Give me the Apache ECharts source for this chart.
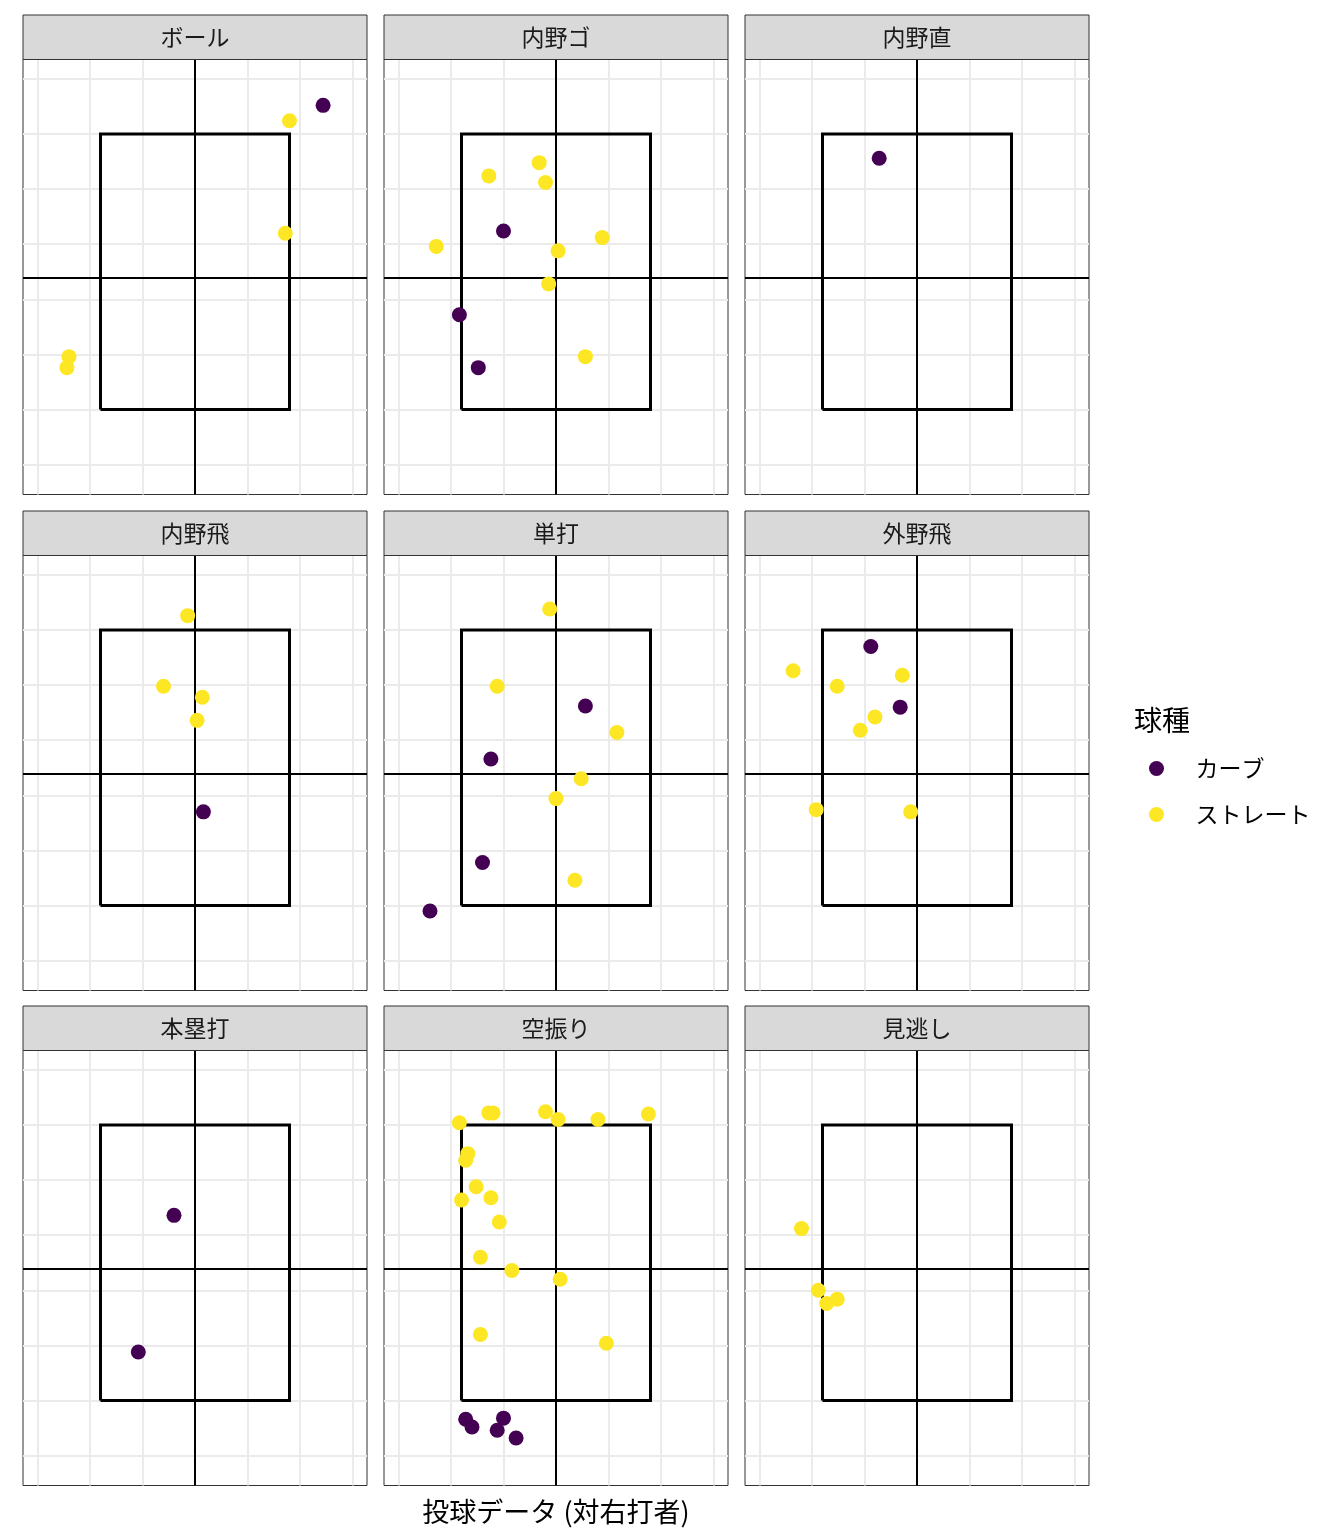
<!DOCTYPE html>
<html>
<head>
<meta charset="utf-8">
<script src="https://cdn.jsdelivr.net/npm/echarts@6/dist/echarts.min.js"></script>
<style>
  html, body { margin: 0; padding: 0; background: #ffffff; }
  #chart { width: 1344px; height: 1536px; }
</style>
</head>
<body>
<div id="chart"></div>
<script>
// ---- data ----
const facets = ['ボール', '内野ゴ', '内野直', '内野飛', '単打', '外野飛', '本塁打', '空振り', '見逃し'];
const pitchTypes = ['カーブ', 'ストレート'];
const xTitle = '投球データ (対右打者)';
const legendTitle = '球種';

// [plate x, plate z] per facet and pitch type
const ball_curve = [[1.22, 3.76]];
const ball_straight = [[0.90, 3.62], [0.86, 2.60], [-1.20, 1.48], [-1.22, 1.38]];
const gro_curve = [[-0.50, 2.62], [-0.92, 1.86], [-0.74, 1.38]];
const gro_straight = [[-0.16, 3.24], [-0.64, 3.12], [-0.10, 3.06], [-1.14, 2.48], [0.44, 2.56], [0.02, 2.44], [-0.07, 2.14], [0.28, 1.48]];
const liner_curve = [[-0.36, 3.28]];
const liner_straight = [];
const infly_curve = [[0.08, 1.85]];
const infly_straight = [[-0.07, 3.63], [-0.30, 2.99], [0.07, 2.89], [0.02, 2.68]];
const single_curve = [[0.28, 2.81], [-0.62, 2.33], [-0.70, 1.39], [-1.20, 0.95]];
const single_straight = [[-0.06, 3.69], [-0.56, 2.99], [0.58, 2.57], [0.24, 2.15], [0.00, 1.97], [0.18, 1.23]];
const outfly_curve = [[-0.44, 3.35], [-0.16, 2.80]];
const outfly_straight = [[-1.18, 3.13], [-0.14, 3.09], [-0.76, 2.99], [-0.40, 2.71], [-0.54, 2.59], [-0.96, 1.87], [-0.06, 1.85]];
const hr_curve = [[-0.20, 2.68], [-0.54, 1.44]];
const hr_straight = [];
const swing_curve = [[-0.86, 0.83], [-0.80, 0.76], [-0.50, 0.84], [-0.56, 0.73], [-0.38, 0.66]];
const swing_straight = [[-0.92, 3.52], [-0.64, 3.61], [-0.60, 3.61], [-0.10, 3.62], [0.02, 3.55], [0.40, 3.55], [0.88, 3.60],
  [-0.84, 3.24], [-0.86, 3.18], [-0.76, 2.94], [-0.90, 2.82], [-0.62, 2.84], [-0.54, 2.62], [-0.72, 2.30], [-0.42, 2.18],
  [0.04, 2.10], [-0.72, 1.60], [0.48, 1.52]];
const look_curve = [];
const look_straight = [[-1.10, 2.56], [-0.94, 2.00], [-0.86, 1.88], [-0.76, 1.92]];

const curveByFacet = [ball_curve, gro_curve, liner_curve, infly_curve, single_curve, outfly_curve, hr_curve, swing_curve, look_curve];
const straightByFacet = [ball_straight, gro_straight, liner_straight, infly_straight, single_straight, outfly_straight, hr_straight, swing_straight, look_straight];

// strike zone and reference lines
const zoneX = [-0.9, 0.9];
const zoneZ = [1.0, 3.5];
const centerX = 0;
const centerZ = 2.2;
// panel grid breaks
const xBreaks = [-1.5, -1.0, -0.5, 0.5, 1.0, 1.5];
const zBreaks = [0.5, 1.0, 1.5, 2.0, 2.5, 3.0, 3.5, 4.0];
const xRange = [-1.638, 1.638];
const zRange = [0.229, 4.176];

// ---- styling / layout ----
const colors = ['#440154', '#FDE725'];
const FONT = '"Noto Sans CJK JP", "Noto Sans", sans-serif';
const colLeft = [23, 384, 745];
const rowTop = [59.5, 555.5, 1050.5];
const PW = 344, PH = 435, STRIP = 44.5;

const chart = echarts.init(document.getElementById('chart'), null, { renderer: 'canvas' });

const grids = [], xAxes = [], yAxes = [], series = [], graphics = [];

facets.forEach((name, i) => {
  const col = i % 3, row = Math.floor(i / 3);
  const left = colLeft[col], top = rowTop[row];
  grids.push({ left: left, top: top, width: PW, height: PH, show: true, borderColor: '#333333', borderWidth: 1, backgroundColor: '#ffffff', containLabel: false });
  xAxes.push({ type: 'value', gridIndex: i, min: xRange[0], max: xRange[1], show: false, splitLine: { show: false } });
  yAxes.push({ type: 'value', gridIndex: i, min: zRange[0], max: zRange[1], show: false, splitLine: { show: false } });

  const gridLines = [];
  xBreaks.forEach(v => gridLines.push({ coords: [[v, zRange[0]], [v, zRange[1]]] }));
  zBreaks.forEach(v => gridLines.push({ coords: [[xRange[0], v], [xRange[1], v]] }));
  series.push({
    name: 'grid' + i, type: 'lines', coordinateSystem: 'cartesian2d', xAxisIndex: i, yAxisIndex: i,
    data: gridLines, silent: true, z: 1, animation: false,
    lineStyle: { color: '#EBEBEB', width: 2, opacity: 1, type: 'solid' }
  });
  series.push({
    name: 'center' + i, type: 'lines', coordinateSystem: 'cartesian2d', xAxisIndex: i, yAxisIndex: i,
    data: [
      { coords: [[centerX, zRange[0]], [centerX, zRange[1]]] },
      { coords: [[xRange[0], centerZ], [xRange[1], centerZ]] }
    ],
    silent: true, z: 2, animation: false,
    lineStyle: { color: '#000000', width: 2, opacity: 1, type: 'solid' }
  });
  series.push({
    name: 'zone' + i, type: 'line', xAxisIndex: i, yAxisIndex: i, silent: true, z: 3, animation: false,
    symbol: 'none',
    data: [[zoneX[0], zoneZ[0]], [zoneX[1], zoneZ[0]], [zoneX[1], zoneZ[1]], [zoneX[0], zoneZ[1]], [zoneX[0], zoneZ[0]]],
    lineStyle: { color: '#000000', width: 3, join: 'miter' }
  });
  [curveByFacet[i], straightByFacet[i]].forEach((d, k) => {
    series.push({
      name: pitchTypes[k], type: 'scatter', xAxisIndex: i, yAxisIndex: i, z: 4, animation: false,
      symbol: 'circle', symbolSize: 15, data: d,
      itemStyle: { color: colors[k], opacity: 1 }
    });
  });

  graphics.push({
    type: 'rect', silent: true, z: 10,
    shape: { x: left, y: top - STRIP, width: PW, height: STRIP },
    style: { fill: '#D9D9D9', stroke: '#333333', lineWidth: 1 }
  });
  graphics.push({
    type: 'text', silent: true, z: 11,
    x: left + PW / 2, y: top - STRIP / 2,
    style: { text: name, font: '23px ' + FONT, fill: '#1A1A1A', align: 'center', verticalAlign: 'middle' }
  });
});

graphics.push({
  type: 'text', silent: true, z: 11, x: 556, y: 1512,
  style: { text: xTitle, font: '27px ' + FONT, fill: '#000000', align: 'center', verticalAlign: 'middle' }
});
graphics.push({
  type: 'text', silent: true, z: 11, x: 1134, y: 720,
  style: { text: legendTitle, font: '28px ' + FONT, fill: '#000000', align: 'left', verticalAlign: 'middle' }
});

chart.setOption({
  backgroundColor: '#ffffff',
  animation: false,
  grid: grids,
  xAxis: xAxes,
  yAxis: yAxes,
  legend: {
    data: pitchTypes,
    orient: 'vertical',
    left: 1149,
    top: 757,
    padding: 0,
    icon: 'circle',
    itemWidth: 68,
    itemHeight: 15,
    itemGap: 23,
    selectedMode: false,
    textStyle: { fontSize: 23, fontFamily: FONT, color: '#000000' }
  },
  graphic: graphics,
  series: series
});
</script>
</body>
</html>
